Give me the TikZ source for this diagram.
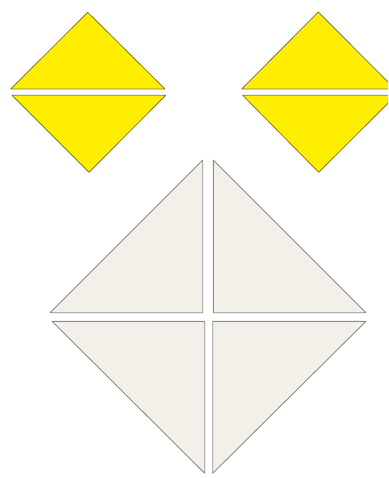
\documentclass[tikz,border=0pt]{standalone}
\begin{document}
\begin{tikzpicture}[x=1pt,y=-1pt,
  yel/.style={fill={rgb,255:red,255;green,238;blue,0},draw={rgb,255:red,130;green,120;blue,60},line width=0.8pt,line join=round},
  crm/.style={fill={rgb,255:red,243;green,240;blue,233},draw={rgb,255:red,140;green,140;blue,140},line width=0.9pt,line join=round}]
\path[use as bounding box,fill=white] (0,0) rectangle (388,478);
% left yellow diamond
\draw[yel] (87.7,12.3) -- (165,89) -- (10.7,89) -- cycle;
\draw[yel] (12,95.3) -- (165.7,95.3) -- (89,172.3) -- cycle;
% right yellow diamond
\begin{scope}
\clip (0,0) rectangle (388,478);
\draw[yel] (318.3,12) -- (395,89) -- (241.7,89) -- cycle;
\draw[yel] (242.7,95.3) -- (396,95.3) -- (318.7,172.3) -- cycle;
\end{scope}
% big cream diamond
\draw[crm] (202.7,160) -- (202.7,312.7) -- (50,312.7) -- cycle;
\draw[crm] (213.3,160) -- (366,312.7) -- (213.3,312.7) -- cycle;
\draw[crm] (52,321.3) -- (204.7,321.3) -- (204.7,473.3) -- cycle;
\draw[crm] (212.7,321.3) -- (366,321.3) -- (212.7,473.3) -- cycle;
\end{tikzpicture}
\end{document}
